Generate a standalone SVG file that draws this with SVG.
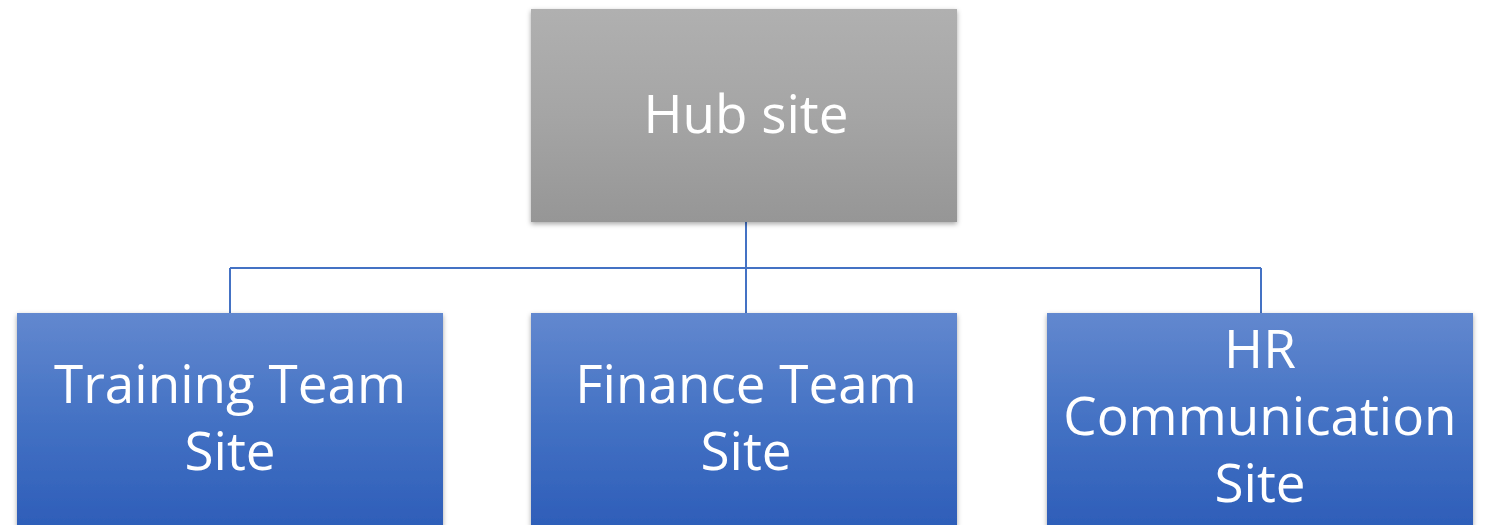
<svg xmlns="http://www.w3.org/2000/svg" width="1485" height="525" viewBox="0 0 1485 525">
<defs>
<linearGradient id="gGray" x1="0" y1="0" x2="0" y2="1">
<stop offset="0" stop-color="#b0b0b0"/>
<stop offset="0.5" stop-color="#a5a5a5"/>
<stop offset="1" stop-color="#969696"/>
</linearGradient>
<linearGradient id="gBlue" x1="0" y1="0" x2="0" y2="1">
<stop offset="0" stop-color="#6288cf"/>
<stop offset="0.5" stop-color="#4472c4"/>
<stop offset="1" stop-color="#2e5eb9"/>
</linearGradient>
<filter id="sh" x="-5%" y="-5%" width="110%" height="115%">
<feDropShadow dx="0" dy="2" stdDeviation="2.5" flood-color="#000" flood-opacity="0.35"/>
</filter>
</defs>
<style>
.t{font-family:"Open Sans","Liberation Sans",sans-serif;font-size:53px;fill:#fff;text-anchor:middle}
.c{stroke:#4472c4;stroke-width:2;fill:none}
</style>
<rect width="1485" height="525" fill="#fff"/>
<g id="connectors">
<path class="c" d="M746 222V268M230 268H1261M230 268V313M746 268V313M1261 268V313"/>
</g>
<g id="hub">
<rect x="531" y="9" width="426" height="213" fill="url(#gGray)" filter="url(#sh)"/>
<text class="t" x="746" y="133">Hub site</text>
</g>
<g id="training">
<rect x="17" y="313" width="426" height="213" fill="url(#gBlue)" filter="url(#sh)"/>
<text class="t" x="230" y="403">Training Team</text>
<text class="t" x="230" y="470">Site</text>
</g>
<g id="finance">
<rect x="531" y="313" width="426" height="213" fill="url(#gBlue)" filter="url(#sh)"/>
<text class="t" x="746" y="403">Finance Team</text>
<text class="t" x="746" y="470">Site</text>
</g>
<g id="hr">
<rect x="1047" y="313" width="426" height="213" fill="url(#gBlue)" filter="url(#sh)"/>
<text class="t" x="1260" y="368">HR</text>
<text class="t" x="1260" y="435">Communication</text>
<text class="t" x="1260" y="502">Site</text>
</g>
</svg>
